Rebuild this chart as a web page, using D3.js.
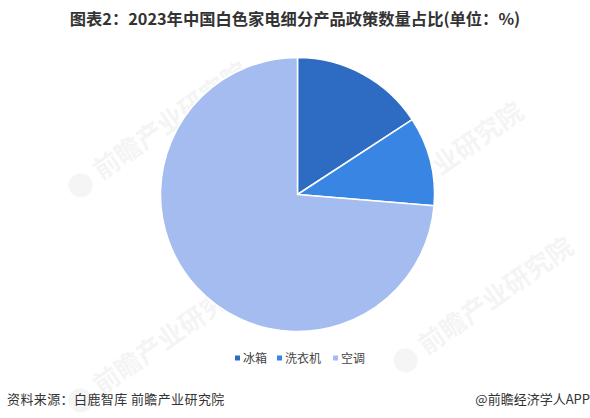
<!DOCTYPE html>
<html><head><meta charset="utf-8">
<script src="https://cdn.jsdelivr.net/npm/d3@7"></script>
<style>
html,body{margin:0;padding:0;background:#fff;}
svg{display:block;}
</style></head>
<body>
<svg id="chart" width="590" height="418"></svg>
<script>
const categories = ["冰箱", "洗衣机", "空调"];
const values = [3, 2, 14];
const colors = ["#2d6cc2", "#3885e3", "#a4bcef"];
const titleText = "图表2：2023年中国白色家电细分产品政策数量占比(单位：%)";
const sourceText = "资料来源：白鹿智库 前瞻产业研究院";
const brandText = "@前瞻经济学人APP";
const watermarkText = "前瞻产业研究院";

const svg = d3.select("#chart");
const W = 590, H = 418;
const font = "'Noto Sans CJK SC','Microsoft YaHei',sans-serif";

// watermarks
const wm = [[95,185],[370,225],[95,400],[420,360]];
wm.forEach(([x,y])=>{
  const g = svg.append("g").attr("transform",`translate(${x},${y}) rotate(-35)`).attr("opacity",0.05);
  g.append("circle").attr("cx",-12).attr("cy",-8).attr("r",12).attr("fill","#555");
  g.append("text").attr("x",8).attr("y",0).attr("font-family",font).attr("font-size",26)
    .attr("font-weight","bold").attr("fill","#444").text(watermarkText);
});

// title
svg.append("text").attr("x", W/2).attr("y", 25).attr("text-anchor","middle")
  .attr("font-family","'Noto Sans CJK SC',sans-serif").attr("font-weight","bold")
  .attr("font-size",16.3).attr("fill","#333").text(titleText);

// pie
const cx = 297.5, cy = 194.5, r = 137;
const data = categories.map((c,i)=>({cat:c, value:values[i], color:colors[i]}));
const pie = d3.pie().value(d=>d.value).sort(null);
const arc = d3.arc().innerRadius(0).outerRadius(r);
const gp = svg.append("g").attr("transform",`translate(${cx},${cy})`);
gp.selectAll("path").data(pie(data)).join("path")
  .attr("d",arc).attr("fill",d=>d.data.color)
  .attr("stroke","#fff").attr("stroke-width",1.5).attr("stroke-linejoin","round");

// legend
const lg = svg.append("g").attr("font-family",font).attr("font-size",12).attr("fill","#444");
const itemX = [235, 277, 333];
data.forEach((d,i)=>{
  lg.append("rect").attr("x",itemX[i]).attr("y",355.5).attr("width",5).attr("height",5).attr("fill",d.color);
  lg.append("text").attr("x",itemX[i]+8).attr("y",362.5).text(d.cat);
});

// footer
svg.append("text").attr("x",7).attr("y",404).attr("font-family",font).attr("font-size",13)
  .attr("letter-spacing",0.4).attr("fill","#333").text(sourceText);
svg.append("text").attr("x",590).attr("y",404).attr("text-anchor","end").attr("font-family",font).attr("font-size",13)
  .attr("fill","#333").text(brandText);
</script>
</body></html>
